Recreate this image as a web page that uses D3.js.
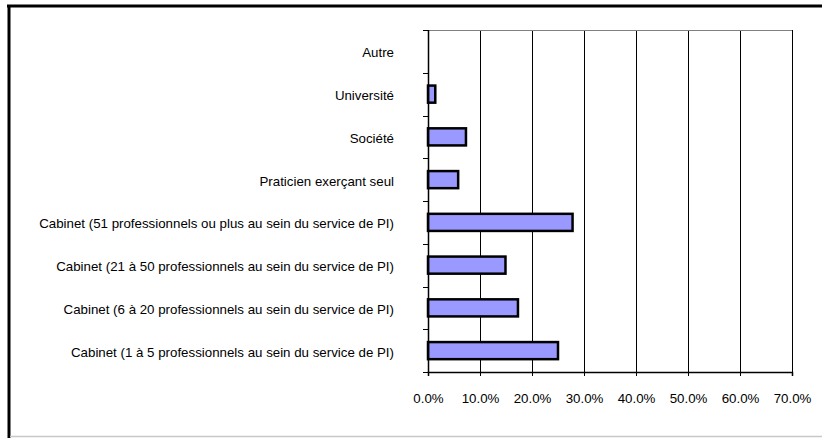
<!DOCTYPE html>
<html>
<head>
<meta charset="utf-8">
<script src="https://cdn.jsdelivr.net/npm/d3@7"></script>
<style>
  body { margin: 0; background: #fff; }
  text { font-family: Arial, 'Liberation Sans', sans-serif; fill: #000; }
</style>
</head>
<body>
<div id="chart"></div>
<script>
// categories from top to bottom
const categories = [
  'Autre',
  'Université',
  'Société',
  'Praticien exerçant seul',
  'Cabinet (51 professionnels ou plus au sein du service de PI)',
  'Cabinet (21 à 50 professionnels au sein du service de PI)',
  'Cabinet (6 à 20 professionnels au sein du service de PI)',
  'Cabinet (1 à 5 professionnels au sein du service de PI)'
]
const values = [0, 1.4, 7.3, 5.8, 27.8, 14.9, 17.3, 25.0]
const xTicks = [0, 10, 20, 30, 40, 50, 60, 70]

const W = 822
const H = 438
const margin = { top: 30, right: 30, bottom: 66, left: 428 }
const width = 792 - margin.left
const height = 372 - margin.top

const svg = d3
  .select('#chart')
  .append('svg')
  .attr('width', W)
  .attr('height', H)

// outer frame
svg.append('line')
  .attr('x1', 7).attr('x2', W).attr('y1', 6).attr('y2', 6)
  .attr('stroke', '#000').attr('stroke-width', 3)
svg.append('line')
  .attr('x1', 9).attr('x2', 9).attr('y1', 5).attr('y2', H)
  .attr('stroke', '#000').attr('stroke-width', 3)
svg.append('line')
  .attr('x1', 10).attr('x2', W).attr('y1', 436.5).attr('y2', 436.5)
  .attr('stroke', '#c8c8c8').attr('stroke-width', 1.5)

const g = svg.append('g')
  .attr('transform', 'translate(' + margin.left + ',' + margin.top + ')')

const xPositionScale = d3.scaleLinear().domain([0, 70]).range([0, width])
const yPositionScale = d3.scaleBand().domain(categories).range([0, height])

// vertical gridlines
g.selectAll('.grid')
  .data(xTicks.slice(1))
  .enter()
  .append('line')
  .attr('class', 'grid')
  .attr('x1', d => Math.round(xPositionScale(d)) + 0.5)
  .attr('x2', d => Math.round(xPositionScale(d)) + 0.5)
  .attr('y1', 0)
  .attr('y2', height)
  .attr('stroke', '#000')
  .attr('stroke-width', 1)

// plot area top border
g.append('line')
  .attr('x1', 0).attr('x2', width)
  .attr('y1', 0.5).attr('y2', 0.5)
  .attr('stroke', '#808080')

// bars
const rows = categories.map((c, i) => ({ c: c, v: values[i] }))
const barH = yPositionScale.bandwidth() / 2.5
g.selectAll('.bar')
  .data(rows.filter(d => d.v > 0))
  .enter()
  .append('rect')
  .attr('class', 'bar')
  .attr('x', 0)
  .attr('y', d => yPositionScale(d.c) + (yPositionScale.bandwidth() - barH) / 2)
  .attr('width', d => xPositionScale(d.v))
  .attr('height', barH)
  .attr('fill', '#9999ff')
  .attr('stroke', '#000')
  .attr('stroke-width', 2.5)

// y axis
const yAxis = d3.axisLeft(yPositionScale).tickSize(0).tickPadding(34)
const yG = g.append('g').attr('class', 'axis y-axis').call(yAxis)
yG.select('.domain').remove()
yG.selectAll('text')
  .attr('font-size', 13.3)
  .attr('font-family', 'Arial, Liberation Sans, sans-serif')
  .attr('dy', '0.45em')

g.append('line')
  .attr('x1', 0.5).attr('x2', 0.5).attr('y1', 0).attr('y2', height)
  .attr('stroke', '#000').attr('stroke-width', 1.5)

// category boundary ticks
g.selectAll('.ytick')
  .data(categories)
  .enter()
  .append('line')
  .attr('class', 'ytick')
  .attr('x1', -5).attr('x2', 0)
  .attr('y1', d => Math.round(yPositionScale(d)) + 0.5)
  .attr('y2', d => Math.round(yPositionScale(d)) + 0.5)
  .attr('stroke', '#000')
g.append('line')
  .attr('x1', -5).attr('x2', 0)
  .attr('y1', height + 0.5).attr('y2', height + 0.5)
  .attr('stroke', '#000')

// x axis
const xAxis = d3
  .axisBottom(xPositionScale)
  .tickValues(xTicks)
  .tickSize(4)
  .tickPadding(18)
  .tickFormat(d => d.toFixed(1) + '%')

const xG = g.append('g')
  .attr('class', 'axis x-axis')
  .attr('transform', 'translate(0,' + height + ')')
  .call(xAxis)
xG.select('.domain').attr('stroke-width', 1.5)
xG.selectAll('text')
  .attr('font-size', 13.3)
  .attr('font-family', 'Arial, Liberation Sans, sans-serif')
</script>
</body>
</html>
